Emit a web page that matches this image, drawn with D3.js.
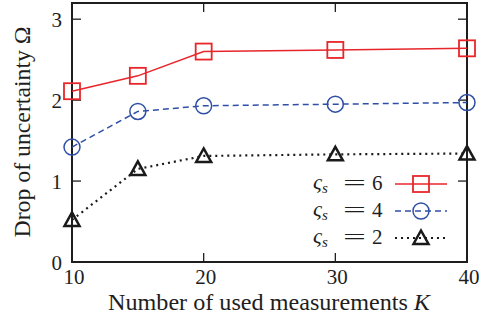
<!DOCTYPE html>
<html>
<head>
<meta charset="utf-8">
<script src="https://cdn.jsdelivr.net/npm/d3@7"></script>
<style>
  body { margin: 0; background: #fff; }
</style>
</head>
<body>
<svg id="chart" width="479" height="323"></svg>
<script>
var xs = [10, 15, 20, 30, 40]
var s6 = [2.11, 2.30, 2.60, 2.62, 2.64]
var s4 = [1.42, 1.86, 1.93, 1.95, 1.97]
var s2 = [0.52, 1.15, 1.31, 1.33, 1.34]
var xTicks = [10, 20, 30, 40]
var yTicks = [0, 1, 2, 3]

var series = [
  {name: '6', vals: s6, color: '#e8262a', dash: null, shape: 'square'},
  {name: '4', vals: s4, color: '#2f4fa6', dash: '6,4', shape: 'circle'},
  {name: '2', vals: s2, color: '#1a1a1a', dash: '2,4', shape: 'triangle'}
]

var svg = d3.select('#chart')
  .style('font-family', "'Liberation Serif', 'DejaVu Serif', serif")
var L = 72, R = 467, T = 3, B = 262
var ink = '#1e1e1e'

var x = d3.scaleLinear().domain([10, 40]).range([L, R])
var y = d3.scaleLinear().domain([0, 3.2]).range([B, T])

// frame
svg.append('rect').attr('x', L).attr('y', T).attr('width', R - L).attr('height', B - T)
  .attr('fill', 'none').attr('stroke', ink).attr('stroke-width', 2)

var tl = 9
xTicks.forEach(t => {
  svg.append('line').attr('x1', x(t)).attr('x2', x(t)).attr('y1', B).attr('y2', B - tl)
    .attr('stroke', ink).attr('stroke-width', 1.3)
  svg.append('line').attr('x1', x(t)).attr('x2', x(t)).attr('y1', T).attr('y2', T + tl)
    .attr('stroke', ink).attr('stroke-width', 1.3)
  svg.append('text').attr('x', x(t) + 2).attr('y', 284).attr('text-anchor', 'middle')
    .attr('font-size', 21).attr('fill', ink).text(t)
})
yTicks.forEach(t => {
  svg.append('line').attr('x1', L).attr('x2', L + tl).attr('y1', y(t)).attr('y2', y(t))
    .attr('stroke', ink).attr('stroke-width', 1.3)
  svg.append('line').attr('x1', R).attr('x2', R - tl).attr('y1', y(t)).attr('y2', y(t))
    .attr('stroke', ink).attr('stroke-width', 1.3)
  svg.append('text').attr('x', 62).attr('y', y(t) + 7.5).attr('text-anchor', 'end')
    .attr('font-size', 21).attr('fill', ink).text(t)
})

svg.append('text').attr('transform', 'translate(30,132) rotate(-90)')
  .attr('text-anchor', 'middle').attr('font-size', 23).attr('fill', ink)
  .attr('textLength', 211).attr('lengthAdjust', 'spacingAndGlyphs')
  .text('Drop of uncertainty Ω')

var xl = svg.append('text').attr('x', 108).attr('y', 310).attr('fill', ink)
  .attr('font-size', 23).attr('textLength', 322).attr('lengthAdjust', 'spacingAndGlyphs')
xl.append('tspan').text('Number of used measurements ')
xl.append('tspan').attr('font-style', 'italic').text('K')

function marker(g, shape, cx, cy, color) {
  if (shape == 'square') {
    g.append('rect').attr('x', cx - 8).attr('y', cy - 8).attr('width', 16).attr('height', 16)
      .attr('fill', 'none').attr('stroke', color).attr('stroke-width', 1.8)
  } else if (shape == 'circle') {
    g.append('circle').attr('cx', cx).attr('cy', cy).attr('r', 8)
      .attr('fill', 'none').attr('stroke', color).attr('stroke-width', 1.5)
  } else {
    var h = 7.5
    g.append('path').attr('d', 'M' + [cx, cy - h] + 'L' + [cx + h, cy + h * 0.8] + 'L' + [cx - h, cy + h * 0.8] + 'Z')
      .attr('fill', 'none').attr('stroke', color).attr('stroke-width', 2.5)
  }
}

var line = d3.line().x((d, i) => x(xs[i])).y(d => y(d))

series.forEach(s => {
  var g = svg.append('g')
  g.append('path').attr('d', line(s.vals)).attr('fill', 'none')
    .attr('stroke', s.color).attr('stroke-width', s.shape == 'triangle' ? 2.2 : 1.5)
    .attr('stroke-dasharray', s.dash)
  s.vals.forEach((v, i) => marker(g, s.shape, x(xs[i]), y(v), s.color))
})

// legend
var legY = [184, 211, 238]
series.forEach((s, i) => {
  var ly = legY[i]
  var t = svg.append('text').attr('x', 313).attr('y', ly + 5).attr('font-size', 22).attr('fill', ink)
  t.append('tspan').attr('font-style', 'italic').text('ς')
  t.append('tspan').attr('font-style', 'italic').attr('font-size', 15).attr('dy', 4).text('s')
  svg.append('text').attr('x', 343).attr('y', ly + 6).attr('font-size', 22).attr('fill', ink)
    .attr('textLength', 23).attr('lengthAdjust', 'spacingAndGlyphs').text('=')
  svg.append('text').attr('x', 372).attr('y', ly + 6).attr('font-size', 21).attr('fill', ink).text(s.name)
  svg.append('line').attr('x1', 395).attr('x2', 447).attr('y1', ly).attr('y2', ly)
    .attr('stroke', s.color).attr('stroke-width', s.shape == 'triangle' ? 2.2 : 1.5)
    .attr('stroke-dasharray', s.dash)
  marker(svg, s.shape, 421, ly, s.color)
})
</script>
</body>
</html>
